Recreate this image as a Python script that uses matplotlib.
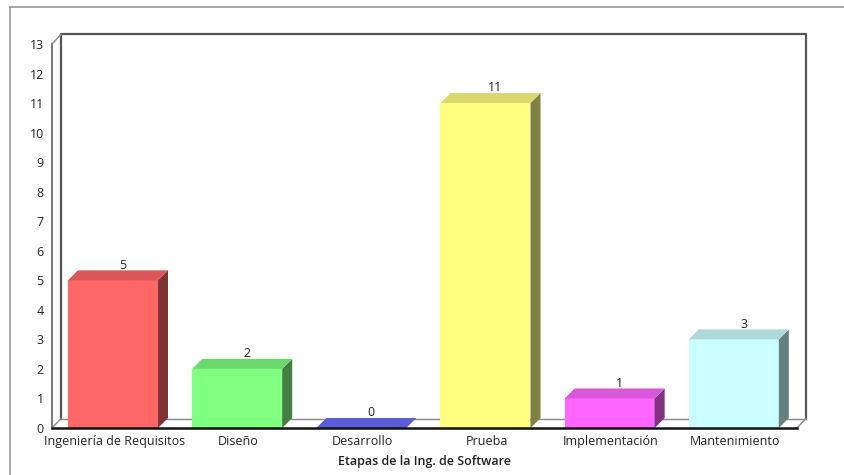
import matplotlib
matplotlib.use("Agg")
import matplotlib.pyplot as plt
from matplotlib.patches import Polygon
from matplotlib.lines import Line2D

etapas = ["Ingeniería de Requisitos", "Diseño", "Desarrollo", "Prueba",
          "Implementación", "Mantenimiento"]
cantidades = [5, 2, 0, 11, 1, 3]
color_frente = ["#ff6666", "#80ff80", "#5c5cd9", "#ffff80", "#ff66ff", "#ccffff"]
color_arriba = ["#d95757", "#6cd96c", "#5c5cd9", "#d9d96c", "#d957d9", "#add9d9"]
color_lado = ["#803333", "#408040", "#2e2e6b", "#808040", "#803380", "#668080"]
y_ticks = list(range(14))

plt.rcParams["font.family"] = ["Open Sans", "DejaVu Sans"]

W, H = 845, 475
fig = plt.figure(figsize=(W / 100, H / 100), dpi=100)
# front plane of the 3D box, in pixels
left, right, bottom, top = 52, 797, 47, 431
ax = fig.add_axes([left / W, bottom / H, (right - left) / W, (top - bottom) / H])
n = len(etapas)
ymax = 13
ax.set_xlim(0, n)
ax.set_ylim(0, ymax)

px_x = (right - left) / n      # pixels per category
px_y = (top - bottom) / ymax   # pixels per unit

# wall depth and bar depth (converted from pixels to data units)
wdx, wdy = 9 / px_x, 9.5 / px_y
bdx, bdy = 10 / px_x, 10 / px_y

wall = dict(color="#555555", lw=1.6, clip_on=False, zorder=1)
thin = dict(color="#888888", lw=1.0, clip_on=False, zorder=1)
# back wall
ax.plot([wdx, wdx, n + wdx, n + wdx], [wdy, ymax + wdy, ymax + wdy, wdy], **wall)
ax.plot([wdx, n + wdx], [wdy, wdy], **thin)
# left wall / floor edges
ax.plot([0, 0], [0, ymax], color="#777777", lw=1.4, clip_on=False, zorder=1)
ax.plot([0, wdx], [ymax, ymax + wdy], **thin)
ax.plot([0, wdx], [0, wdy], **thin)
ax.plot([n, n + wdx], [0, wdy], **thin)

bar_w = 90 / px_x
bar_off = 16 / px_x
for i, v in enumerate(cantidades):
    x0 = i + bar_off
    x1 = x0 + bar_w
    if v > 0:
        ax.bar(x0, v, width=bar_w, align="edge", color=color_frente[i],
               linewidth=0, zorder=3, clip_on=False)
        ax.add_patch(Polygon([(x1, 0), (x1 + bdx, bdy), (x1 + bdx, v + bdy), (x1, v)],
                             closed=True, facecolor=color_lado[i], lw=0,
                             zorder=3, clip_on=False))
    ax.add_patch(Polygon([(x0, v), (x1, v), (x1 + bdx, v + bdy), (x0 + bdx, v + bdy)],
                         closed=True, facecolor=color_arriba[i], lw=0,
                         zorder=3, clip_on=False))
    ax.annotate(str(v), (x0 + bar_w / 2 + bdx, v + bdy), xytext=(0, -1),
                textcoords="offset points", ha="center", va="bottom",
                fontsize=9, color="#222222", zorder=4)

# front floor edge
ax.plot([0, n], [0, 0], color="#111111", lw=1.8, clip_on=False, zorder=5)

for s in ax.spines.values():
    s.set_visible(False)
ax.set_yticks(y_ticks)
ax.set_xticks([i + 0.5 for i in range(n)])
ax.set_xticklabels(etapas)
ax.tick_params(axis="both", length=0, labelsize=9, labelcolor="#222222")
ax.tick_params(axis="y", pad=6)
ax.tick_params(axis="x", pad=5)
ax.set_xlabel("Etapas de la Ing. de Software", fontsize=9, fontweight="semibold",
              color="#222222", labelpad=5)

# outer frame
fig.add_artist(Line2D([10 / W, 10 / W], [0, (H - 7) / H], color="#999999", lw=1.2))
fig.add_artist(Line2D([10 / W, 1], [(H - 7) / H, (H - 7) / H], color="#999999", lw=1.2))

fig.savefig("out.png", dpi=100)
